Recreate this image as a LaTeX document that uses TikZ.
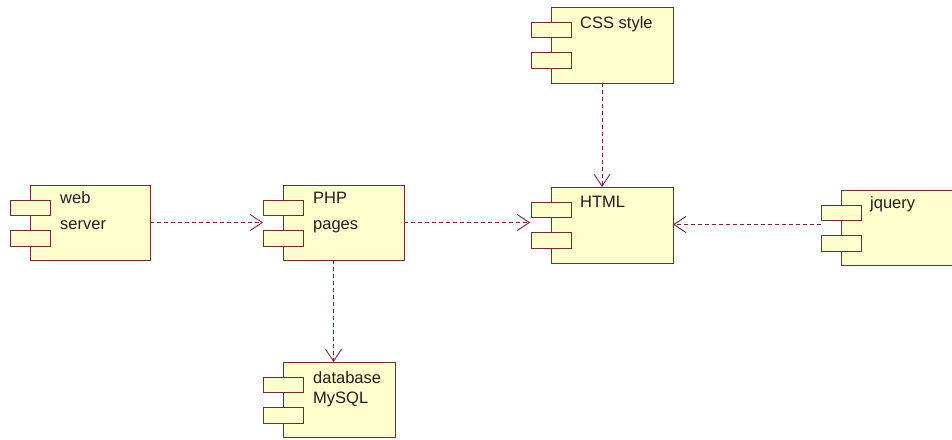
\documentclass[tikz,border=0pt]{standalone}
\usepackage{fontspec}
\setmainfont{Liberation Sans}
\usetikzlibrary{arrows.meta}
\definecolor{boxfill}{RGB}{255,255,206}
\definecolor{boxline}{RGB}{110,45,50}
\definecolor{depc}{RGB}{128,30,60}
\definecolor{txtc}{RGB}{30,30,30}
\newcommand\compports[1]{%
  \draw[port] ([shift={(-20,15)}]#1.north west) rectangle ++(40,15);
  \draw[port] ([shift={(-20,45)}]#1.north west) rectangle ++(40,16);}
\begin{document}
\begin{tikzpicture}[x=1pt,y=-1pt,
  comp/.style={draw=boxline, fill=boxfill, line width=1pt, inner sep=0pt, outer sep=0pt},
  port/.style={draw=boxline, fill=boxfill, line width=1pt},
  lbl/.style={anchor=base west, inner sep=0pt, text=txtc, font=\fontsize{16.5}{19}\selectfont},
  deparrow/.style={draw=depc, line width=0.9pt, dash pattern=on 4pt off 3pt,
    -{Straight Barb[length=12pt,width=16pt]}}]
\useasboundingbox[fill=white] (0,0) rectangle (952,439);
% components
\node[comp, minimum width=120pt, minimum height=75pt] (web) at (90,222.5) {};
\node[comp, minimum width=121pt, minimum height=75pt] (php) at (343.5,222.5) {};
\node[comp, minimum width=122pt, minimum height=76pt] (html) at (612,225) {};
\node[comp, minimum width=122pt, minimum height=76pt] (css) at (612,45) {};
\node[comp, minimum width=120pt, minimum height=75pt] (jq) at (901,227.5) {};
\node[comp, minimum width=112pt, minimum height=75pt] (db) at (339,399.5) {};
\compports{web}
\compports{php}
\compports{html}
\compports{css}
\compports{jq}
\compports{db}
% labels
\node[lbl] (webA) at (60,203) {web};
\node[lbl] (webB) at (60,229) {server};
\node[lbl] (phpA) at (313,203) {PHP};
\node[lbl] (phpB) at (313,229) {pages};
\node[lbl] (htmlA) at (580,207) {HTML};
\node[lbl] (cssA) at (580,28) {CSS style};
\node[lbl] (jqA) at (870,208) {jquery};
\node[lbl] (dbA) at (313,383) {database};
\node[lbl] (dbB) at (313,403) {MySQL};
% dependencies
\draw[deparrow] (web.east) -- ([xshift=-20pt]php.west);
\coordinate (htmlin) at ([xshift=-21pt]html.west);
\draw[deparrow] (php.east) -- (php.east -| htmlin);
\coordinate (cssout) at ([xshift=-10pt]css.south);
\draw[deparrow] (cssout) -- (cssout |- html.north);
\coordinate (jqout) at ([xshift=-20pt,yshift=3pt]jq.west);
\draw[deparrow] (jqout) -- (jqout -| html.east);
\coordinate (phpout) at ([xshift=-10pt]php.south);
\draw[deparrow] (phpout) -- (phpout |- db.north);
\end{tikzpicture}
\end{document}
